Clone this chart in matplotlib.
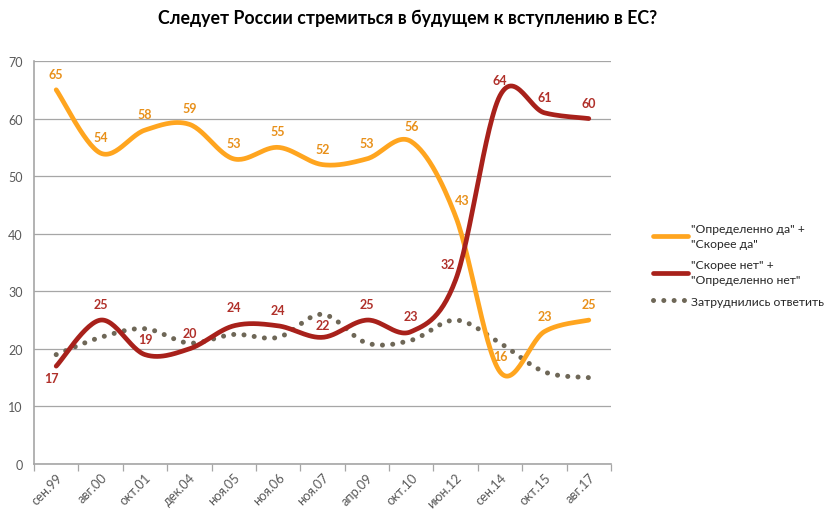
import numpy as np
import matplotlib
matplotlib.use('Agg')
import matplotlib.pyplot as plt

plt.rcParams['font.family'] = ['Lato', 'DejaVu Sans']

# ── Data ────────────────────────────────────────────────────────────────────
periods = ['сен.99', 'авг.00', 'окт.01', 'дек.04', 'ноя.05', 'ноя.06', 'ноя.07',
           'апр.09', 'окт.10', 'июн.12', 'сен.14', 'окт.15', 'авг.17']
yes_vals = [65, 54, 58, 59, 53, 55, 52, 53, 56, 43, 16, 23, 25]
no_vals = [17, 25, 19, 20, 24, 24, 22, 25, 23, 32, 64, 61, 60]
hard_vals = [19, 22, 23.5, 21, 22.5, 22, 26, 21, 21.5, 25, 21, 16, 15]

yes_label = '"Определенно да" +\n"Скорее да"'
no_label = '"Скорее нет" +\n"Определенно нет"'
hard_label = 'Затруднились ответить'

ORANGE = '#FFA51F'
ORANGE_TXT = '#E8901A'
RED = '#A8211B'
RED_TXT = '#B0302A'
DOTS = '#6E6757'
GRID = '#A6A6A6'
TXT = '#595959'


def smooth(vals, n=30):
    # Excel-like smoothed line: cubic Bezier with Catmull-Rom control points
    pts = np.column_stack([np.arange(len(vals), dtype=float), np.asarray(vals, float)])
    pad = np.vstack([pts[0], pts, pts[-1]])
    t = np.linspace(0, 1, n)[:, None]
    segs = []
    for i in range(len(pts) - 1):
        p0, p1, p2, p3 = pad[i], pad[i + 1], pad[i + 2], pad[i + 3]
        c1 = p1 + (p2 - p0) / 6
        c2 = p2 - (p3 - p1) / 6
        seg = (1 - t) ** 3 * p1 + 3 * (1 - t) ** 2 * t * c1 + 3 * (1 - t) * t ** 2 * c2 + t ** 3 * p2
        segs.append(seg if i == 0 else seg[1:])
    seg = np.vstack(segs)
    return seg[:, 0], seg[:, 1]


fig = plt.figure(figsize=(8.24, 5.10), dpi=100)
ax = fig.add_axes([34 / 824, 45 / 510, 577 / 824, 403 / 510])

x = np.arange(len(periods))

hx, hy = smooth(hard_vals)
ax.plot(hx, hy, color=DOTS, lw=3.6, linestyle=(0, (0.01, 2.05)),
        dash_capstyle='round', label=hard_label, zorder=2)
yx, yy = smooth(yes_vals)
ax.plot(yx, yy, color=ORANGE, lw=3.4, solid_capstyle='round', label=yes_label, zorder=3)
nx, ny = smooth(no_vals)
ax.plot(nx, ny, color=RED, lw=3.4, solid_capstyle='round', label=no_label, zorder=3)

# data labels, offset in pixels from the point (default: above)
yes_offsets = {9: (7, 16)}
no_offsets = {0: (-5, -12), 4: (0, 19), 6: (0, 12), 9: (-8, 16)}
for i, v in enumerate(yes_vals):
    ax.annotate(str(v), (x[i], v), xytext=yes_offsets.get(i, (0, 16)),
                textcoords='offset pixels', ha='center', va='center',
                fontsize=9, fontweight='bold', color=ORANGE_TXT, zorder=5)
for i, v in enumerate(no_vals):
    ax.annotate(str(v), (x[i], v), xytext=no_offsets.get(i, (0, 16)),
                textcoords='offset pixels', ha='center', va='center',
                fontsize=9, fontweight='bold', color=RED_TXT, zorder=5)

ax.set_xlim(-0.5, len(periods) - 0.5)
ax.set_ylim(0, 70)
ax.set_yticks(range(0, 71, 10))
ax.yaxis.grid(True, color=GRID, lw=0.9)
ax.set_axisbelow(True)

ax.set_xticks(np.arange(-0.5, len(periods), 1.0))
ax.set_xticklabels([])
ax.set_xticks(x, minor=True)
ax.set_xticklabels(periods, minor=True, rotation=45, ha='right', rotation_mode='anchor')
ax.tick_params(axis='x', which='major', length=5, width=0.9, color=GRID, direction='out')
ax.tick_params(axis='x', which='minor', length=0, pad=5, labelsize=9.3, labelcolor=TXT)
ax.tick_params(axis='y', length=0, pad=8, labelsize=9, labelcolor=TXT)

for s in ['top', 'right']:
    ax.spines[s].set_visible(False)
for s in ['left', 'bottom']:
    ax.spines[s].set_color(GRID)
    ax.spines[s].set_linewidth(1.2)

fig.suptitle('Следует России стремиться в будущем к вступлению в ЕС?',
             x=408 / 824, y=1 - 18 / 510, va='center', fontsize=12.8, fontweight='bold')

h, l = ax.get_legend_handles_labels()
order = [1, 2, 0]
leg = fig.legend([h[i] for i in order], [l[i] for i in order], loc='upper left',
                 bbox_to_anchor=(653 / 824, 1 - 224 / 510), frameon=False,
                 fontsize=8.7, handlelength=2.9, handletextpad=0.25, labelspacing=0.85,
                 borderpad=0, borderaxespad=0)
for t in leg.get_texts():
    t.set_linespacing(1.45)
    t.set_color('#262626')

fig.savefig('out.png', dpi=100)
